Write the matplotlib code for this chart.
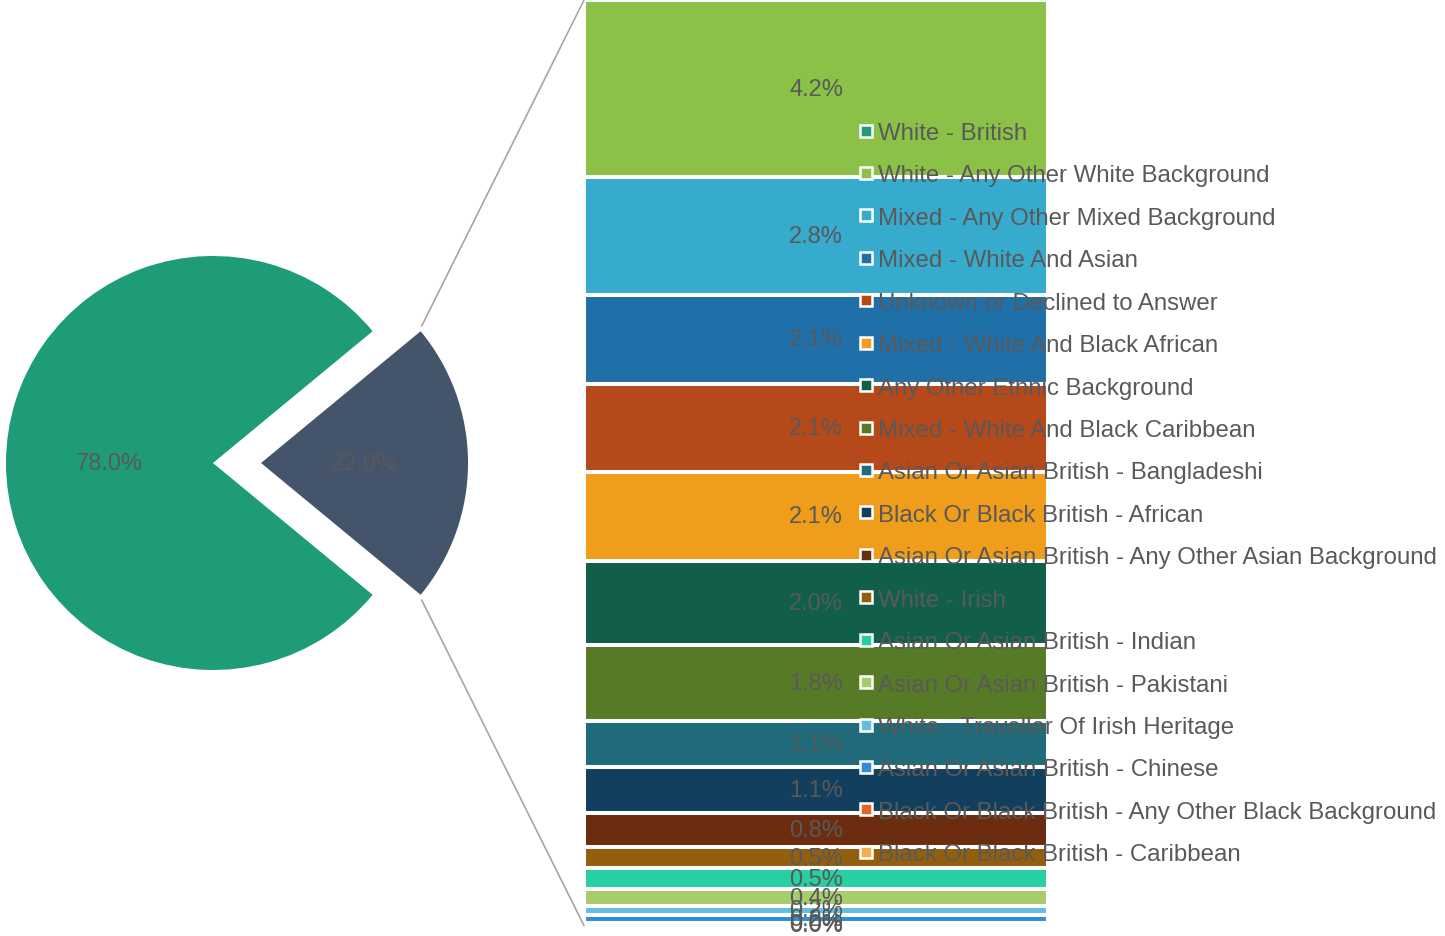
import matplotlib
matplotlib.use("Agg")
import matplotlib.pyplot as plt
from matplotlib.patches import ConnectionPatch
from matplotlib.lines import Line2D
import numpy as np

plt.rcParams['font.family'] = ['Liberation Sans', 'DejaVu Sans']

# Share of the main group shown in the pie
main_label = "White - British"
main_value = 78.0
main_color = "#1E9C78"
other_color = "#44546A"

# Breakdown of the remaining groups, top of the bar first
categories = [
    "White - Any Other White Background",
    "Mixed - Any Other Mixed Background",
    "Mixed - White And Asian",
    "Unknown or Declined to Answer",
    "Mixed - White And Black African",
    "Any Other Ethnic Background",
    "Mixed - White And Black Caribbean",
    "Asian Or Asian British - Bangladeshi",
    "Black Or Black British - African",
    "Asian Or Asian British - Any Other Asian Background",
    "White - Irish",
    "Asian Or Asian British - Indian",
    "Asian Or Asian British - Pakistani",
    "White - Traveller Of Irish Heritage",
    "Asian Or Asian British - Chinese",
    "Black Or Black British - Any Other Black Background",
    "Black Or Black British - Caribbean",
]
values = [4.2, 2.8, 2.1, 2.1, 2.1, 2.0, 1.8, 1.1, 1.1, 0.8,
          0.5, 0.5, 0.4, 0.2, 0.2, 0.04, 0.02]
colors = ["#8BC147", "#36ABCD", "#1F6FA8", "#B5491A", "#F09D1B", "#115E4A",
          "#567A26", "#1F6A7B", "#133F5E", "#6B2C0F", "#935E0D", "#28CFA1",
          "#A5CD6B", "#63BFDD", "#2F8FD6", "#E4642B", "#F4B04C"]

text_color = "#595959"
fs = 17
legend_fs = 17.3

W, H = 1445, 937
fig = plt.figure(figsize=(W / 100, H / 100), dpi=100)

# ---- pie (whole-figure axes, 1 data unit = pie radius) ----
R = 207.0
cx, cy = 213.0, H - 464.0
ax_pie = fig.add_axes([0, 0, 1, 1])
other_total = float(np.sum(values))
pie_vals = [other_total, main_value]
span = 360.0 * other_total / (other_total + main_value)
explode_d = 0.232
wedges, texts, autotexts = ax_pie.pie(
    pie_vals, colors=[other_color, main_color], startangle=-span / 2,
    explode=[explode_d, 0], autopct='%1.1f%%', pctdistance=0.5,
    textprops=dict(color=text_color, fontsize=fs), radius=1.0)
ax_pie.set_xlim(-cx / R, (W - cx) / R)
ax_pie.set_ylim(-cy / R, (H - cy) / R)
ax_pie.set_aspect('auto')
ax_pie.axis('off')

# ---- stacked bar ----
bar_top_px = 1.0
bar_h_px = other_total * 42.15
ax_bar = fig.add_axes([584 / W, (H - bar_top_px - bar_h_px) / H,
                       464 / W, bar_h_px / H])
tops = other_total - np.concatenate([[0], np.cumsum(values)[:-1]])
bottoms = tops - np.array(values)
for v, b, c in zip(values, bottoms, colors):
    ax_bar.bar(0, v, bottom=b, width=1.0, color=c, edgecolor='white',
               linewidth=2.9)
    ax_bar.text(0, b + v / 2, f"{v:.1f}%", ha='center', va='center',
                color=text_color, fontsize=fs, zorder=5)
ax_bar.set_xlim(-0.5, 0.5)
ax_bar.set_ylim(0, other_total)
ax_bar.axis('off')

# ---- connector lines from the exploded wedge to the bar ----
theta = np.deg2rad(span / 2)
x_edge = explode_d + np.cos(theta)
y_edge = np.sin(theta)
for sign, ybar in ((1, other_total), (-1, 0)):
    con = ConnectionPatch(xyA=(-0.5, ybar), coordsA=ax_bar.transData,
                          xyB=(x_edge + 0.005, sign * (y_edge + 0.025)),
                          coordsB=ax_pie.transData,
                          color="#A6A6A6", linewidth=1.2)
    fig.add_artist(con)

# ---- legend ----
handles = [Line2D([], [], linestyle='none', marker='s', markersize=8.2,
                  markerfacecolor=c, markeredgecolor='white',
                  markeredgewidth=1.8)
           for c in [main_color] + colors]
labels = [main_label] + categories
leg = fig.legend(handles, labels, loc='upper left',
                 bbox_to_anchor=(859 / W, (H - 123) / H),
                 frameon=False, fontsize=legend_fs, labelcolor=text_color,
                 handlelength=0.6, handletextpad=0.2, labelspacing=0.85,
                 borderpad=0, borderaxespad=0)
leg.set_zorder(10)

fig.savefig("out.png", dpi=100)
